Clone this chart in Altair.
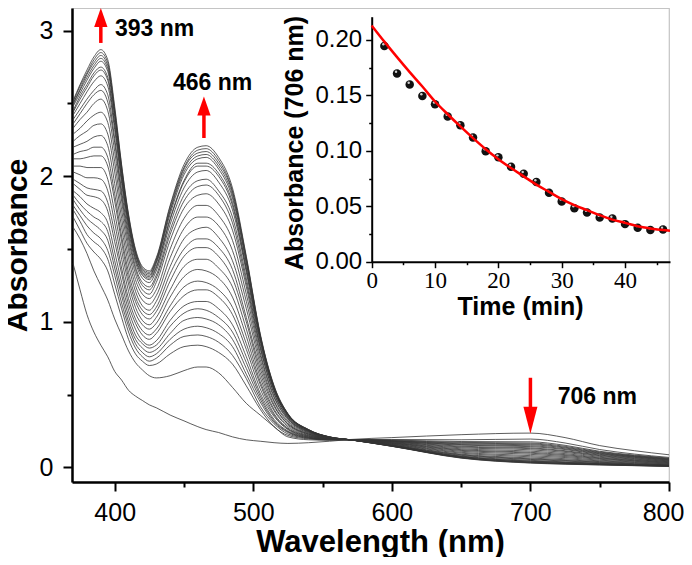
import altair as alt
import pandas as pd

# ---------------- main spectra (absorbance read per wavelength, 28 spectra: initial -> final)
wavelengths = [370, 375, 380, 385, 390, 395, 400, 405, 410, 415, 420, 425, 430, 440, 450, 460,
               466, 475, 485, 495, 505, 515, 525, 540, 555, 570, 600, 650, 700, 725, 750, 775, 800]

w370 = [1.40, 1.65, 1.72, 1.77, 1.80, 1.84, 1.87, 1.90, 1.95, 1.98, 2.03, 2.07, 2.12, 2.15, 2.20, 2.24, 2.29, 2.33, 2.36, 2.39, 2.42, 2.44, 2.45, 2.48, 2.49, 2.50, 2.51, 2.52]
w375 = [1.22, 1.57, 1.63, 1.69, 1.73, 1.77, 1.81, 1.86, 1.91, 1.95, 2.01, 2.07, 2.12, 2.17, 2.22, 2.28, 2.33, 2.39, 2.43, 2.46, 2.50, 2.53, 2.55, 2.57, 2.59, 2.60, 2.62, 2.63]
w380 = [1.05, 1.47, 1.54, 1.60, 1.66, 1.71, 1.76, 1.81, 1.87, 1.92, 1.99, 2.06, 2.13, 2.18, 2.24, 2.31, 2.38, 2.44, 2.50, 2.53, 2.58, 2.61, 2.63, 2.66, 2.68, 2.70, 2.71, 2.73]
w385 = [0.93, 1.35, 1.48, 1.55, 1.61, 1.67, 1.72, 1.78, 1.86, 1.91, 1.99, 2.06, 2.14, 2.20, 2.27, 2.35, 2.42, 2.50, 2.56, 2.59, 2.65, 2.69, 2.71, 2.74, 2.76, 2.78, 2.80, 2.82]
w390 = [0.84, 1.25, 1.43, 1.51, 1.57, 1.63, 1.69, 1.75, 1.84, 1.90, 1.98, 2.06, 2.14, 2.20, 2.28, 2.36, 2.44, 2.53, 2.59, 2.63, 2.69, 2.73, 2.75, 2.79, 2.81, 2.83, 2.85, 2.87]
w395 = [0.76, 1.15, 1.35, 1.43, 1.49, 1.56, 1.62, 1.68, 1.76, 1.82, 1.90, 1.98, 2.07, 2.13, 2.21, 2.29, 2.37, 2.45, 2.51, 2.56, 2.62, 2.66, 2.68, 2.72, 2.74, 2.76, 2.78, 2.80]
w400 = [0.66, 1.02, 1.19, 1.26, 1.32, 1.37, 1.42, 1.48, 1.55, 1.61, 1.68, 1.75, 1.83, 1.88, 1.95, 2.03, 2.10, 2.17, 2.23, 2.26, 2.32, 2.35, 2.37, 2.41, 2.43, 2.44, 2.46, 2.48]
w405 = [0.60, 0.91, 1.03, 1.09, 1.13, 1.18, 1.22, 1.27, 1.33, 1.37, 1.43, 1.49, 1.55, 1.59, 1.65, 1.71, 1.77, 1.83, 1.87, 1.90, 1.95, 1.98, 1.99, 2.02, 2.04, 2.05, 2.07, 2.08]
w410 = [0.53, 0.80, 0.88, 0.93, 0.97, 1.00, 1.04, 1.08, 1.12, 1.16, 1.21, 1.26, 1.30, 1.34, 1.39, 1.44, 1.49, 1.53, 1.57, 1.60, 1.63, 1.66, 1.67, 1.69, 1.70, 1.72, 1.73, 1.74]
w415 = [0.49, 0.72, 0.78, 0.82, 0.85, 0.88, 0.91, 0.95, 0.99, 1.02, 1.06, 1.10, 1.14, 1.17, 1.21, 1.25, 1.29, 1.33, 1.36, 1.38, 1.41, 1.43, 1.44, 1.46, 1.47, 1.48, 1.49, 1.50]
w420 = [0.46, 0.67, 0.73, 0.76, 0.79, 0.82, 0.85, 0.87, 0.91, 0.94, 0.98, 1.01, 1.05, 1.08, 1.11, 1.15, 1.19, 1.22, 1.25, 1.27, 1.30, 1.32, 1.33, 1.34, 1.35, 1.36, 1.37, 1.38]
w425 = [0.43, 0.63, 0.70, 0.73, 0.76, 0.79, 0.82, 0.84, 0.88, 0.91, 0.95, 0.98, 1.02, 1.05, 1.08, 1.12, 1.16, 1.19, 1.22, 1.24, 1.27, 1.29, 1.30, 1.31, 1.32, 1.33, 1.34, 1.35]
w430 = [0.41, 0.615, 0.71, 0.75, 0.78, 0.81, 0.84, 0.87, 0.92, 0.95, 0.99, 1.03, 1.07, 1.10, 1.14, 1.18, 1.22, 1.27, 1.30, 1.32, 1.35, 1.37, 1.38, 1.40, 1.41, 1.42, 1.43, 1.44]
w440 = [0.36, 0.63, 0.78, 0.84, 0.88, 0.92, 0.97, 1.01, 1.07, 1.11, 1.17, 1.22, 1.28, 1.33, 1.38, 1.44, 1.50, 1.56, 1.60, 1.63, 1.67, 1.70, 1.71, 1.74, 1.76, 1.77, 1.79, 1.80]
w450 = [0.32, 0.665, 0.83, 0.90, 0.95, 1.01, 1.06, 1.11, 1.18, 1.24, 1.31, 1.38, 1.45, 1.50, 1.57, 1.64, 1.71, 1.78, 1.83, 1.87, 1.92, 1.96, 1.97, 2.01, 2.03, 2.05, 2.06, 2.08]
w460 = [0.28, 0.69, 0.84, 0.91, 0.97, 1.03, 1.09, 1.14, 1.22, 1.28, 1.36, 1.43, 1.51, 1.57, 1.64, 1.72, 1.80, 1.87, 1.93, 1.97, 2.03, 2.07, 2.09, 2.12, 2.14, 2.16, 2.18, 2.20]
w466 = [0.26, 0.69, 0.83, 0.90, 0.96, 1.02, 1.08, 1.14, 1.22, 1.27, 1.35, 1.43, 1.51, 1.57, 1.65, 1.72, 1.80, 1.88, 1.94, 1.98, 2.04, 2.07, 2.09, 2.13, 2.15, 2.17, 2.19, 2.21]
w475 = [0.24, 0.65, 0.79, 0.86, 0.92, 0.98, 1.03, 1.09, 1.17, 1.22, 1.30, 1.37, 1.45, 1.51, 1.58, 1.66, 1.73, 1.81, 1.87, 1.90, 1.96, 2.00, 2.02, 2.05, 2.07, 2.09, 2.11, 2.13]
w485 = [0.21, 0.55, 0.71, 0.77, 0.83, 0.88, 0.93, 0.98, 1.05, 1.10, 1.17, 1.24, 1.30, 1.36, 1.42, 1.49, 1.56, 1.63, 1.68, 1.72, 1.77, 1.80, 1.82, 1.85, 1.87, 1.89, 1.90, 1.92]
w495 = [0.19, 0.44, 0.56, 0.61, 0.64, 0.68, 0.72, 0.76, 0.81, 0.85, 0.90, 0.95, 1.00, 1.03, 1.09, 1.14, 1.19, 1.24, 1.27, 1.30, 1.34, 1.36, 1.37, 1.40, 1.41, 1.43, 1.44, 1.45]
w505 = [0.18, 0.36, 0.40, 0.42, 0.45, 0.47, 0.49, 0.51, 0.54, 0.57, 0.59, 0.62, 0.65, 0.68, 0.71, 0.74, 0.77, 0.79, 0.82, 0.83, 0.85, 0.87, 0.88, 0.89, 0.90, 0.91, 0.91, 0.92]
w515 = [0.17, 0.28, 0.28, 0.30, 0.31, 0.32, 0.33, 0.35, 0.36, 0.37, 0.39, 0.40, 0.42, 0.43, 0.45, 0.46, 0.48, 0.49, 0.51, 0.51, 0.53, 0.53, 0.54, 0.54, 0.55, 0.55, 0.56, 0.56]
w525 = [0.165, 0.21, 0.22, 0.23, 0.24, 0.245, 0.25, 0.26, 0.265, 0.27, 0.28, 0.29, 0.30, 0.30, 0.31, 0.32, 0.33, 0.335, 0.34, 0.345, 0.35, 0.356, 0.358, 0.362, 0.364, 0.366, 0.368, 0.37]
w540 = [0.17, 0.19, 0.196, 0.20, 0.202, 0.205, 0.208, 0.21, 0.214, 0.217, 0.22, 0.224, 0.228, 0.23, 0.234, 0.238, 0.241, 0.245, 0.247, 0.249, 0.252, 0.254, 0.255, 0.256, 0.257, 0.258, 0.259, 0.26]
w555 = [0.18, 0.187, 0.189, 0.19, 0.191, 0.192, 0.193, 0.193, 0.195, 0.196, 0.197, 0.198, 0.199, 0.20, 0.201, 0.203, 0.204, 0.205, 0.206, 0.206, 0.207, 0.208, 0.208, 0.209, 0.209, 0.209, 0.21, 0.21]
w570 = [0.192, 0.191, 0.191, 0.191, 0.191, 0.191, 0.191, 0.190, 0.190, 0.190, 0.190, 0.190, 0.190, 0.190, 0.190, 0.190, 0.190, 0.190, 0.190, 0.190, 0.190, 0.190, 0.190, 0.190, 0.190, 0.190, 0.190, 0.190]
w600 = [0.205, 0.192, 0.188, 0.185, 0.183, 0.182, 0.18, 0.178, 0.176, 0.174, 0.171, 0.169, 0.167, 0.165, 0.162, 0.16, 0.158, 0.155, 0.153, 0.152, 0.15, 0.149, 0.149, 0.147, 0.147, 0.146, 0.146, 0.145]
w650 = [0.225, 0.19, 0.178, 0.172, 0.167, 0.162, 0.157, 0.153, 0.146, 0.141, 0.135, 0.128, 0.122, 0.117, 0.111, 0.104, 0.098, 0.091, 0.087, 0.083, 0.078, 0.075, 0.074, 0.07, 0.069, 0.067, 0.066, 0.064]
w700 = [0.236, 0.195, 0.176, 0.168, 0.162, 0.156, 0.149, 0.143, 0.135, 0.129, 0.121, 0.112, 0.104, 0.098, 0.09, 0.081, 0.073, 0.065, 0.059, 0.055, 0.049, 0.044, 0.042, 0.038, 0.036, 0.034, 0.032, 0.03]
w725 = [0.205, 0.168, 0.152, 0.145, 0.139, 0.134, 0.128, 0.123, 0.115, 0.11, 0.103, 0.095, 0.088, 0.082, 0.075, 0.068, 0.06, 0.053, 0.048, 0.044, 0.038, 0.035, 0.033, 0.029, 0.027, 0.026, 0.024, 0.022]
w750 = [0.15, 0.123, 0.111, 0.106, 0.102, 0.098, 0.094, 0.09, 0.085, 0.081, 0.076, 0.07, 0.065, 0.061, 0.056, 0.05, 0.045, 0.04, 0.036, 0.033, 0.029, 0.026, 0.025, 0.022, 0.021, 0.02, 0.018, 0.017]
w775 = [0.115, 0.092, 0.085, 0.081, 0.078, 0.075, 0.072, 0.069, 0.065, 0.061, 0.057, 0.053, 0.049, 0.046, 0.042, 0.038, 0.034, 0.03, 0.026, 0.024, 0.021, 0.019, 0.018, 0.016, 0.015, 0.014, 0.013, 0.012]
w800 = [0.087, 0.069, 0.064, 0.061, 0.058, 0.056, 0.053, 0.051, 0.048, 0.045, 0.042, 0.039, 0.036, 0.033, 0.03, 0.027, 0.024, 0.021, 0.018, 0.017, 0.014, 0.013, 0.012, 0.01, 0.009, 0.009, 0.008, 0.007]

columns = [w370, w375, w380, w385, w390, w395, w400, w405, w410, w415, w420, w425, w430, w440,
           w450, w460, w466, w475, w485, w495, w505, w515, w525, w540, w555, w570, w600, w650,
           w700, w725, w750, w775, w800]

# ---------------- inset: absorbance at 706 nm vs time
t_points = [2, 4, 6, 8, 10, 12, 14, 16, 18, 20, 22, 24, 26, 28, 30, 32, 34, 36, 38, 40, 42, 44, 46]
a_points = [0.1946, 0.1697, 0.1598, 0.1495, 0.142, 0.131, 0.123, 0.112, 0.0997, 0.0943, 0.0856, 0.0793,
            0.0718, 0.0622, 0.0544, 0.0483, 0.0444, 0.0399, 0.039, 0.0339, 0.0306, 0.0285, 0.0291]
t_fit = [0, 2, 4, 6, 8, 10, 12, 14, 16, 18, 20, 22, 24, 26, 28, 30, 32, 34, 36, 38, 40, 42, 44, 46, 47.1]
a_fit = [0.213, 0.1985, 0.1845, 0.171, 0.158, 0.1445, 0.133, 0.122, 0.1115, 0.1015, 0.0925, 0.0845, 0.077,
         0.0695, 0.063, 0.0565, 0.051, 0.0465, 0.042, 0.038, 0.035, 0.032, 0.030, 0.0285, 0.028]

# ---------------- annotations
arrow_labels = ["393 nm", "466 nm", "706 nm"]
label_wl = [400.2, 442.0, 719.7]
label_abs = [3.011, 2.64, 0.485]

rows = []
for wl, col in zip(wavelengths, columns):
    for i, v in enumerate(col):
        rows.append({"wl": wl, "A": v, "spec": i})
spectra = pd.DataFrame(rows)

FONT = "Liberation Sans"

main_x_axis = alt.Axis(
    values=[400, 450, 500, 550, 600, 650, 700, 750, 800],
    labelExpr="datum.value % 100 === 0 ? format(datum.value, 'd') : ''",
    tickSize={"condition": {"test": "datum.value % 100 === 0", "value": 9}, "value": 5},
    labelOffset={"condition": {"test": "datum.value === 800", "value": -6}, "value": 0},
    tickWidth=2, tickColor="black", domainColor="black", domainWidth=2.5,
    labelFont=FONT, labelFontSize=25, labelColor="black", labelPadding=9,
    labelFlush=False, labelOverlap=False, grid=False,
    title="Wavelength (nm)", titleFont=FONT, titleFontSize=31, titleFontWeight="bold",
    titleColor="black", titleX=308, titleY=60, titleAlign="center", titleBaseline="middle",
)
main_y_axis = alt.Axis(
    values=[0, 0.5, 1, 1.5, 2, 2.5, 3],
    labelExpr="datum.value % 1 === 0 ? format(datum.value, 'd') : ''",
    tickSize={"condition": {"test": "datum.value % 1 === 0", "value": 9}, "value": 5},
    tickWidth=2, tickColor="black", domainColor="black", domainWidth=2.5,
    labelFont=FONT, labelFontSize=25, labelColor="black", labelPadding=10,
    labelOverlap=False, labelFlush=False, grid=False,
    title="Absorbance", titleFont=FONT, titleFontSize=30, titleFontWeight="bold",
    titleColor="black", titleX=-55, titleY=237, titleAngle=270, titleAlign="center",
    titleBaseline="middle",
)

xs = alt.Scale(domain=[369.2, 800], nice=False, zero=False)
ys = alt.Scale(domain=[-0.1, 3.156], nice=False, zero=False)

lines = alt.Chart(spectra).mark_line(color="#333333", strokeWidth=0.8, interpolate="monotone").encode(
    x=alt.X("wl:Q", scale=xs, axis=main_x_axis),
    y=alt.Y("A:Q", scale=ys, axis=main_y_axis),
    detail="spec:N",
)

shafts = pd.DataFrame({"wl": [390, 464.4, 700], "A": [2.916, 2.263, 0.616], "A2": [3.05, 2.45, 0.38]})
shaft_marks = alt.Chart(shafts).mark_rule(color="#ff0000", strokeWidth=3.5).encode(
    x="wl:Q", y="A:Q", y2="A2:Q")

heads_up = pd.DataFrame({"wl": [390, 464.4], "A": [3.09, 2.483]})
head_up_marks = alt.Chart(heads_up).mark_point(
    shape="M-0.7,1L0,-1L0.7,1Z", size=361, filled=True, color="#ff0000", opacity=1, strokeWidth=0
).encode(x="wl:Q", y="A:Q")

heads_down = pd.DataFrame({"wl": [700], "A": [0.324]})
head_down_marks = alt.Chart(heads_down).mark_point(
    shape="M-0.52,-1L0,1L0.52,-1Z", size=729, filled=True, color="#ff0000", opacity=1, strokeWidth=0
).encode(x="wl:Q", y="A:Q")

labels = pd.DataFrame({"wl": label_wl, "A": label_abs, "label": arrow_labels})
label_marks = alt.Chart(labels).mark_text(
    align="left", baseline="middle", font=FONT, fontSize=23, fontWeight="bold", color="black"
).encode(x="wl:Q", y="A:Q", text="label:N")

main = alt.layer(lines, shaft_marks, head_up_marks, head_down_marks, label_marks)

# ---------------- inset
inset_x_axis = alt.Axis(
    orient="bottom", offset=-220.3,
    values=[0, 5, 10, 15, 20, 25, 30, 35, 40, 45],
    labelExpr="datum.value % 10 === 0 ? format(datum.value, 'd') : ''",
    tickSize={"condition": {"test": "datum.value % 10 === 0", "value": 6}, "value": 3},
    tickWidth=1.5, tickColor="black", domainColor="black", domainWidth=2,
    labelFont="Liberation Serif", labelFontSize=23, labelColor="black", labelPadding=2,
    labelFlush=False, labelOverlap=False, grid=False,
    title="Time (min)", titleFont=FONT, titleFontSize=25, titleFontWeight="bold",
    titleColor="black", titleX=448, titleY=45, titleAlign="center", titleBaseline="middle",
)
inset_y_axis = alt.Axis(
    orient="left", offset=-299.7,
    values=[0, 0.025, 0.05, 0.075, 0.1, 0.125, 0.15, 0.175, 0.2],
    labelExpr="round(datum.value * 1000) % 50 === 0 ? format(datum.value, '.2f') : ''",
    tickSize={"condition": {"test": "round(datum.value * 1000) % 50 === 0", "value": 6}, "value": 3},
    tickWidth=1.5, tickColor="black", domainColor="black", domainWidth=2,
    labelFont=FONT, labelFontSize=24, labelColor="black", labelPadding=4,
    labelFlush=False, labelOverlap=False, grid=False,
    title="Absorbance (706 nm)", titleFont=FONT, titleFontSize=25, titleFontWeight="bold",
    titleColor="black", titleX=-77, titleY=134.5, titleAngle=270, titleAlign="center",
    titleBaseline="middle",
)
ixs = alt.Scale(domain=[0, 47.1], range=[299.7, 598], nice=False, zero=False)
iys = alt.Scale(domain=[0, 0.221], range=[253.7, 8.7], nice=False, zero=False)

pts_df = pd.DataFrame({"t": t_points, "a": a_points})
fit_df = pd.DataFrame({"t": t_fit, "a": a_fit})

pts = alt.Chart(pts_df).mark_point(filled=True, color="#111111", size=72, opacity=1, strokeWidth=0).encode(
    x=alt.X("t:Q", scale=ixs, axis=inset_x_axis),
    y=alt.Y("a:Q", scale=iys, axis=inset_y_axis),
)
shine = alt.Chart(pts_df).mark_point(filled=True, color="#d0d0d0", size=6, opacity=1, strokeWidth=0,
                                     xOffset=-1, yOffset=-1.8).encode(
    x=alt.X("t:Q", scale=ixs, axis=inset_x_axis),
    y=alt.Y("a:Q", scale=iys, axis=inset_y_axis),
)
fit = alt.Chart(fit_df).mark_line(color="#ff0000", strokeWidth=2.5, interpolate="monotone").encode(
    x=alt.X("t:Q", scale=ixs, axis=inset_x_axis),
    y=alt.Y("a:Q", scale=iys, axis=inset_y_axis),
)
inset = alt.layer(pts, shine, fit)

chart = alt.layer(main, inset).resolve_scale(x="independent", y="independent").properties(
    width=597, height=474,
    autosize=alt.AutoSizeParams(type="none"),
    padding={"left": 64, "top": 0, "right": 15, "bottom": 75},
).configure_view(stroke="#c4c4c4", strokeWidth=1.2)

chart.save("out.html", embed_options={"renderer": "svg", "actions": False})
